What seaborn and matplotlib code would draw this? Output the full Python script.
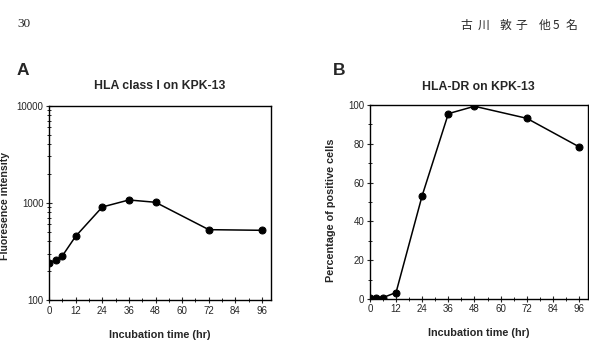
import matplotlib
matplotlib.use("Agg")
import matplotlib.pyplot as plt
import seaborn as sns
import pandas as pd
from matplotlib.ticker import FixedLocator, MultipleLocator, LogLocator, NullFormatter, FixedFormatter

sns.set_style("ticks")
plt.rcParams['font.family'] = ['Liberation Sans', 'DejaVu Sans']

hours = [0, 3, 6, 12, 24, 36, 48, 72, 96]
hla_class1 = [242, 258, 284, 452, 905, 1069, 1012, 529, 521]
hla_dr = [0.3, 0.7, 0.7, 3.3, 53.3, 95.5, 99.3, 93.1, 78.4]
xticks = [0, 12, 24, 36, 48, 60, 72, 84, 96]

df_a = pd.DataFrame({"hours": hours, "value": hla_class1})
df_b = pd.DataFrame({"hours": hours, "value": hla_dr})

fig = plt.figure(figsize=(5.89, 3.44), dpi=100)
ax1 = fig.add_axes([0.0832, 0.128, 0.3768, 0.565])
ax2 = fig.add_axes([0.628, 0.131, 0.370, 0.564])

for ax, df in ((ax1, df_a), (ax2, df_b)):
    sns.lineplot(data=df, x="hours", y="value", ax=ax, color="black",
                 marker="o", markersize=5, linewidth=1.1,
                 markeredgecolor="black", markerfacecolor="black")
    ax.set_xlim(0, 100)
    ax.xaxis.set_major_locator(FixedLocator(xticks))
    ax.xaxis.set_minor_locator(MultipleLocator(6))
    ax.tick_params(axis="both", which="major", direction="inout", length=4,
                   width=0.8, labelsize=7, pad=2)
    ax.tick_params(axis="both", which="minor", direction="inout", length=2.5,
                   width=0.7)
    for s in ax.spines.values():
        s.set_linewidth(1.0)
        s.set_color("black")
    ax.set_xlabel("Incubation time (hr)", fontsize=7.8, fontweight="bold")
    ax.xaxis.set_label_coords(0.5, -0.152)

ax1.set_yscale("log")
ax1.set_ylim(100, 10000)
ax1.yaxis.set_major_locator(FixedLocator([100, 1000, 10000]))
ax1.yaxis.set_major_formatter(FixedFormatter(["100", "1000", "10000"]))
ax1.yaxis.set_minor_locator(LogLocator(base=10, subs=range(2, 10)))
ax1.yaxis.set_minor_formatter(NullFormatter())
ax1.set_ylabel("Fluoresence intensity", fontsize=7.6, fontweight="bold")
ax1.yaxis.set_label_coords(-0.176, 0.485)
ax1.set_title("HLA class I on KPK-13", fontsize=8.8, fontweight="bold", pad=12)

ax2.set_ylim(0, 100)
ax2.yaxis.set_major_locator(MultipleLocator(20))
ax2.yaxis.set_minor_locator(MultipleLocator(10))
ax2.set_ylabel("Percentage of positive cells", fontsize=7.8, fontweight="bold")
ax2.yaxis.set_label_coords(-0.156, 0.455)
ax2.set_title("HLA-DR on KPK-13", fontsize=8.8, fontweight="bold", pad=10.5)

fig.text(0.028, 0.794, "A", fontsize=12.5, fontweight="bold", ha="left", va="center")
fig.text(0.565, 0.794, "B", fontsize=12.5, fontweight="bold", ha="left", va="center")

fig.text(0.029, 0.930, "30", fontsize=9.5, family=["Liberation Serif"], ha="left", va="center")
header_chars = ["古", "川", "敦", "子", "他", "5", "名"]
header_x = [466.7, 483.7, 505.3, 521.7, 545.0, 555.5, 571.0]
for ch, px in zip(header_chars, header_x):
    fig.text(px / 589, 0.926, ch, fontsize=8.5,
             family=["Noto Sans CJK JP", "DejaVu Sans"], ha="center", va="center")

fig.savefig("out.png", dpi=100)
